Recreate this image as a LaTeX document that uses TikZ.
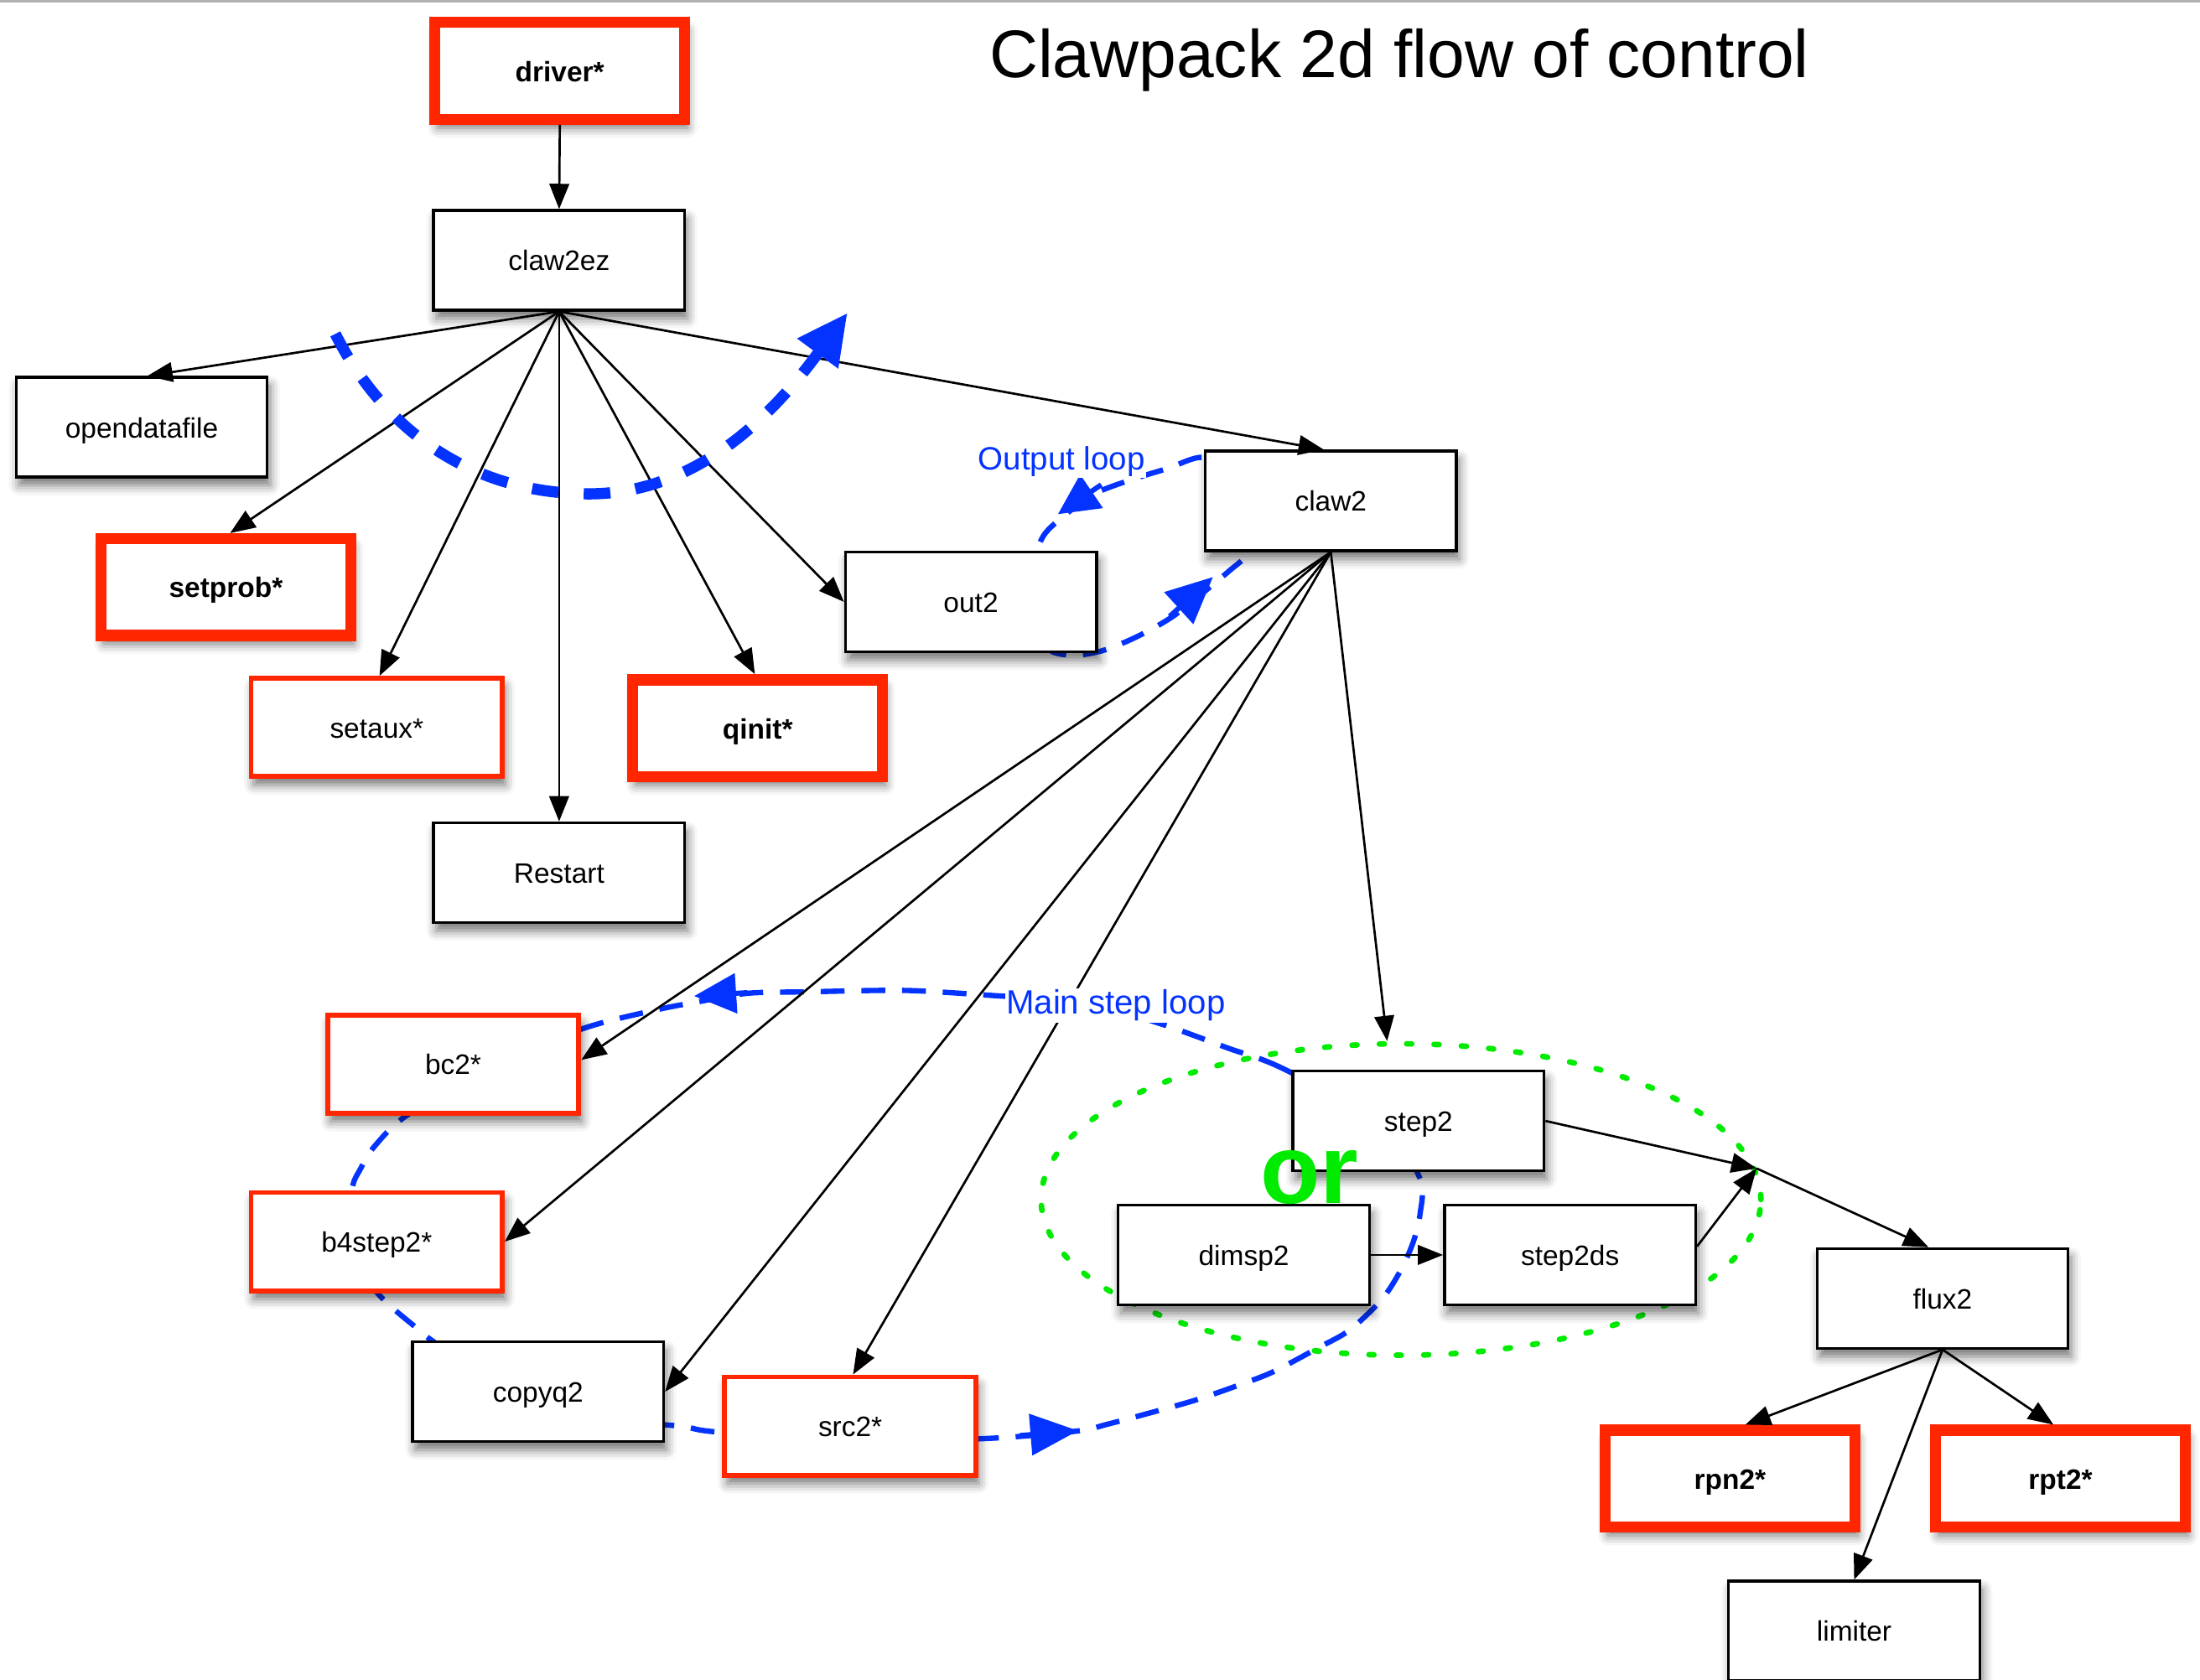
\documentclass[tikz,border=0pt]{standalone}
\usepackage{fontspec}
\setmainfont{Liberation Sans}
\usetikzlibrary{arrows.meta,shapes.geometric,shadows.blur,backgrounds}
\definecolor{boxred}{RGB}{255,38,0}
\definecolor{loopblue}{RGB}{4,51,255}
\definecolor{orgreen}{RGB}{0,235,0}
\tikzset{
  boxshadow/.style={blur shadow={shadow xshift=2pt, shadow yshift=-6pt, shadow blur radius=7pt, shadow opacity=55}},
  box/.style={draw=black, line width=2pt, fill=white, minimum width=179pt, minimum height=71pt,
    inner sep=0pt, text height=15pt, text depth=0pt, font=\fontsize{20}{24}\selectfont, boxshadow},
  redbox/.style={box, draw=boxred, line width=3.5pt, minimum width=179pt, minimum height=70pt},
  bigred/.style={box, draw=boxred, line width=8pt, minimum width=178pt, minimum height=69pt,
    font=\bfseries\fontsize{20}{24}\selectfont},
  arr/.style={draw=black, line width=1.6pt, -{Triangle[length=18pt,width=14pt]}},
  bigloop/.style={draw=loopblue, line width=8pt, dash pattern=on 19pt off 18pt,
    -{Triangle[length=36pt,width=34pt]}},
  steploop/.style={draw=loopblue, line width=3.8pt, dash pattern=on 17pt off 12pt},
  loophead/.style={draw=loopblue, line width=3.6pt, -{Triangle[length=30pt,width=28pt]}},
  looplabel/.style={text=loopblue, fill=white, inner sep=1pt, font=\fontsize{23}{27}\selectfont, anchor=base west},
  orgroup/.style={ellipse, draw=orgreen, line width=4pt, dash pattern=on 3.5pt off 16pt, line cap=round,
    minimum width=513pt, minimum height=222pt, inner sep=0pt},
}
\begin{document}
\begin{tikzpicture}[x=1pt,y=-1pt]
\useasboundingbox (0,0) rectangle (1568,1197);
\begin{scope}[on background layer]
  \fill[white] (0,0) rectangle (1568,1197);
\end{scope}
% off-page warm-up of the shadow fading (not visible)
\path[fill=white, boxshadow] (-400,-400) rectangle (-300,-300);
\draw[gray!60, line width=1.5pt] (0,0.8) -- (1568,0.8);

% title
\node[anchor=base west, inner sep=0pt, font=\fontsize{48}{58}\selectfont] (title) at (705,55) {Clawpack 2d flow of control};

% nodes
\node[bigred] (driver) at (399,50.5) {driver*};
\node[box] (claw2ez) at (398.5,185.5) {claw2ez};
\node[box] (opendatafile) at (101,304.5) {opendatafile};
\node[bigred] (setprob) at (161,418.5) {setprob*};
\node[redbox] (setaux) at (268.5,518.5) {setaux*};
\node[bigred] (qinit) at (540,519) {qinit*};
\node[box] (restart) at (398.5,622) {Restart};
\node[box] (out2) at (692,429) {out2};
\node[box] (claw2) at (948.5,357) {claw2};
\node[redbox] (bc2) at (323,758.5) {bc2*};
\node[redbox] (b4step2) at (268.5,885) {b4step2*};
\node[box] (copyq2) at (383.5,992) {copyq2};
\node[redbox] (src2) at (606,1016.5) {src2*};
\node[box] (step2) at (1011,799) {step2};
\node[box] (dimsp2) at (886.5,894.5) {dimsp2};
\node[box] (step2ds) at (1119,894.5) {step2ds};
\node[box] (flux2) at (1384.5,925.5) {flux2};
\node[bigred] (rpn2) at (1233,1054) {rpn2*};
\node[bigred] (rpt2) at (1468.5,1054) {rpt2*};
\node[box] (limiter) at (1321.5,1162.5) {limiter};

% background: green group ellipse and blue loops
\begin{scope}[on background layer]
  \node[orgroup] (grp) at (998.5,855) {};
  % main step loop
  \draw[steploop] plot[smooth cycle, tension=0.5] coordinates {
    (985,800) (913,761) (875,747) (831,731) (790,719) (750,712) (714,710) (646,706)
    (574,707) (533,708) (498,714) (467,720) (416,733) (350,760) (290,795) (267,817)
    (257,833) (251,848) (252,885) (262,912) (275,928) (295,945) (310,957) (360,990)
    (420,1010) (484,1016.5) (504,1020) (560,1025) (640,1027) (710,1025) (768,1020)
    (790,1015) (820,1007) (852,998) (881,988) (907,978) (939,961) (962,948) (985,926)
    (998,906) (1007,886) (1012,866) (1012,840)};
  \coordinate (mtS) at (532.8,707.5);
  \coordinate (mtT) at (494.7,710);
  \coordinate (mbS) at (727,1023.2);
  \coordinate (mbT) at (768.4,1019.8);
  \draw[loophead] (mtS) -- (mtT);
  \draw[loophead, -{Triangle[length=34pt,width=29pt]}] (mbS) -- (mbT);
  % output loop
  \draw[steploop] plot[smooth cycle, tension=0.5] coordinates {
    (735,420) (745,460) (763,467) (785,464) (810,454) (835,440) (858,422) (876,407)
    (890,394) (898,372) (885,340) (858,326) (832,334) (806,342) (780,352) (758,368)
    (742,385)};
  \coordinate (otS) at (784.9,345.5);
  \coordinate (otT) at (754,366.5);
  \coordinate (obS) at (833.6,439.4);
  \coordinate (obT) at (864.5,411.3);
  \draw[loophead, -{Triangle[length=29pt,width=28pt]}] (otS) -- (otT);
  \draw[loophead, -{Triangle[length=33pt,width=30pt]}] (obS) -- (obT);
\end{scope}

\coordinate (J) at (grp.5);

% edges
\draw[arr] (driver.south) -- (claw2ez.north);
\draw[arr] (claw2ez.south) -- ([xshift=4pt]opendatafile.north);
\draw[arr] (claw2ez.south) -- ([xshift=3pt]setprob.north);
\draw[arr] (claw2ez.south) -- ([xshift=2pt]setaux.north);
\draw[arr] (claw2ez.south) -- (restart.north);
\draw[arr] (claw2ez.south) -- ([xshift=-2pt]qinit.north);
\draw[arr] (claw2ez.south) -- (out2.west);
\draw[arr] (claw2ez.south) -- ([xshift=-5pt]claw2.north);
\draw[arr] (claw2.south) -- ([yshift=3pt]bc2.east);
\draw[arr] (claw2.south) -- (b4step2.east);
\draw[arr] (claw2.south) -- (copyq2.east);
\draw[arr] (claw2.south) -- ([xshift=2pt]src2.north);
\draw[arr] (claw2.south) -- (grp.95);
\draw[arr] (step2.east) -- (J);
\draw[arr] ([yshift=6pt]step2ds.east) -- (J);
\draw[arr] (J) -- ([xshift=-10pt]flux2.north);
\draw[arr] (dimsp2.east) -- (step2ds.west);
\draw[arr] (flux2.south) -- ([xshift=11pt]rpn2.north);
\draw[arr] (flux2.south) -- ([xshift=-5pt]rpt2.north);
\draw[arr] (flux2.south) -- (limiter.north);

% big loop around claw2ez calls
\coordinate (bigA) at (239,238);
\coordinate (bigB) at (604,223);
\draw[bigloop] (bigA) .. controls (270,300) and (330,352) .. (420,352)
  .. controls (500,352) and (555,290) .. (bigB);

% labels
\node[looplabel] (outlbl) at (696,335) {Output loop};
\node[looplabel, font=\fontsize{24}{28}\selectfont] (mainlbl) at (716,723) {Main step loop};
\node[anchor=base west, inner sep=0pt, text=orgreen, font=\bfseries\fontsize{70}{80}\selectfont] (or) at (898,858) {or};
\end{tikzpicture}
\end{document}
